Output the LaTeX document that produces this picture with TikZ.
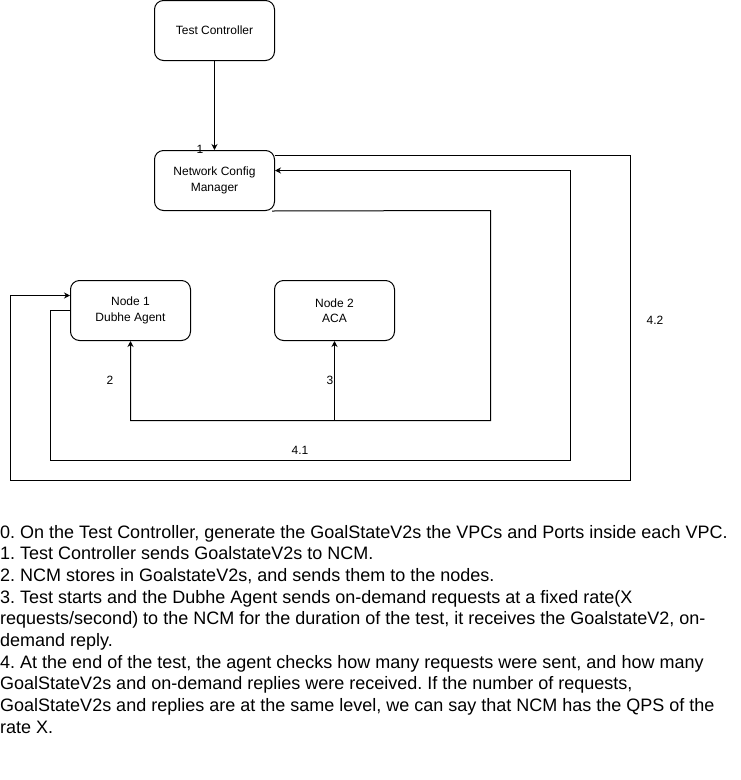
\documentclass[tikz,border=0pt]{standalone}
\usepackage{fontspec}
\setmainfont{Liberation Sans}
\usetikzlibrary{arrows.meta}
\frenchspacing
\begin{document}
\begin{tikzpicture}[x=1pt,y=-1pt,
  box/.style={draw,rounded corners=9pt,minimum width=120pt,minimum height=60pt,inner sep=0pt,align=center,font=\fontsize{12}{15.5}\selectfont,line width=1pt},
  conn/.style={line width=1pt},
  arr/.style={conn,-{Stealth[length=6pt,width=6pt]}},
  lbl/.style={font=\fontsize{12}{14}\selectfont,inner sep=0pt},
  para/.style={anchor=base west,inner sep=0pt,font=\fontsize{18}{21.6}\selectfont}]
\useasboundingbox (0,0) rectangle (741,780);
\node[box] (tc) at (214.5,30.5) {Test Controller};
\node[box] (ncm) at (214.5,180.5) {Network Config\\Manager};
\node[box] (n1) at (130.5,310.5) {Node 1\\Dubhe Agent};
\node[box] (n2) at (334.5,310.5) {Node 2\\ACA};
\coordinate (j) at (334.5,420.5);
% 1
\draw[arr] (tc) -- (ncm);
\node[lbl] (l1) at (200,149) {1};
% 2 and 3
\draw[arr] ([xshift=-3pt]ncm.south east) -- (490.5,210.5) -- (490.5,420.5) -- (130.5,420.5) -- (n1.south);
\draw[arr] (j) -- (n2.south);
\node[lbl] (l2) at (110,380) {2};
\node[lbl] (l3) at (330,380) {3};
% 4.1
\draw[arr] (n1.west) -- (50.5,310.5) -- (50.5,460.5) -- (570.5,460.5) -- (570.5,170.5) -- (ncm.east |- 0,170.5);
\node[lbl] (l41) at (300,450) {4.1};
% 4.2
\draw[arr] (ncm.east |- 0,155.5) -- (630.5,155.5) -- (630.5,480.5) -- (10.5,480.5) -- (10.5,295.5) -- (n1.west |- 0,295.5);
\node[lbl] (l42) at (655,320) {4.2};
% text
\node[para] (t0) at (0,538) {0. On the Test Controller, generate the GoalStateV2s the VPCs and Ports inside each VPC.};
\node[para] (t1) at (0,559.7) {1. Test Controller sends GoalstateV2s to NCM.};
\node[para] (t2) at (0,581.3) {2. NCM stores in GoalstateV2s, and sends them to the nodes.};
\node[para] (t3) at (0,603) {3. Test starts and the Dubhe Agent sends on-demand requests at a fixed rate(X};
\node[para] (t4) at (0,624.7) {requests/second) to the NCM for the duration of the test, it receives the GoalstateV2, on-};
\node[para] (t5) at (0,646.3) {demand reply.};
\node[para] (t6) at (0,668) {4. At the end of the test, the agent checks how many requests were sent, and how many};
\node[para] (t7) at (0,689.7) {GoalStateV2s and on-demand replies were received. If the number of requests,};
\node[para] (t8) at (0,711.3) {GoalStateV2s and replies are at the same level, we can say that NCM has the QPS of the};
\node[para] (t9) at (0,733) {rate X.};
\end{tikzpicture}
\end{document}
